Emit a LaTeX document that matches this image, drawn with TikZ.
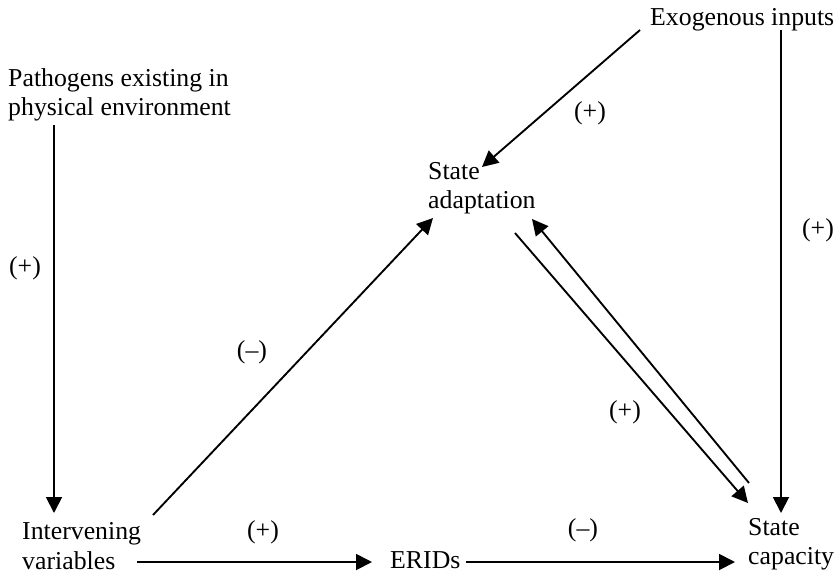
\documentclass[tikz,border=0pt]{standalone}
\usepackage{fontspec}
\setmainfont{Liberation Serif}
\usetikzlibrary{arrows.meta,calc}
\newcommand{\px}{0.03cm}

\begin{document}
\begin{tikzpicture}[x=\px, y=-\px,
    lbl/.style={anchor=west, align=left, inner sep=0pt, font=\fontsize{22}{25}\selectfont},
    sign/.style={inner sep=0pt, font=\fontsize{22}{25}\selectfont},
    arr/.style={line width=1.6pt, -{Triangle[length=16*\px, width=16*\px]}}]
    \useasboundingbox (0,0) rectangle (839,576);

    % Factors
    \node[lbl] (pat) at (8,95) {Pathogens existing in\\physical environment};
    \node[lbl] (exo) at (650,20) {Exogenous inputs};
    \node[lbl] (ada) at (428,188) {State\\adaptation};
    \node[lbl] (int) at (22,546) {Intervening\\variables};
    \node[lbl] (erids) at (390,560) {ERIDs};
    \node[lbl] (cap) at (748,544) {State\\capacity};

    % Signs
    \node[sign] (s-pat) at (25,268) {(+)};
    \node[sign] (s-exo) at (590,113) {(+)};
    \node[sign] (s-exocap) at (818,230) {(+)};
    \node[sign] (s-int) at (252,352) {(--)};
    \node[sign] (s-ada) at (625,412) {(+)};
    \node[sign] (s-erids) at (263,532) {(+)};
    \node[sign] (s-cap) at (583,530) {(--)};

    % Links
    \draw[arr] ($(pat.west)+(46,30)$) -- ($(int.west)+(32,-33)$);
    \draw[arr] ($(exo.west)+(-10,10)$) -- ($(ada.west)+(54,-21)$);
    \draw[arr] ($(exo.west)+(131,10)$) -- ($(cap.west)+(33,-31)$);
    \draw[arr] ($(int.west)+(131,-31)$) -- ($(ada.west)+(5,30)$);
    \draw[arr] ($(ada.west)+(87,45)$) -- ($(cap.west)+(0,-41)$);
    \draw[arr] ($(cap.west)+(1,-61)$) -- ($(ada.west)+(104,31)$);
    \draw[arr] ($(int.west)+(115,16)$) -- ($(erids.west)+(-18,2)$);
    \draw[arr] ($(erids.east)+(5,2)$) -- ($(cap.west)+(-13,18)$);

\end{tikzpicture}
\end{document}
